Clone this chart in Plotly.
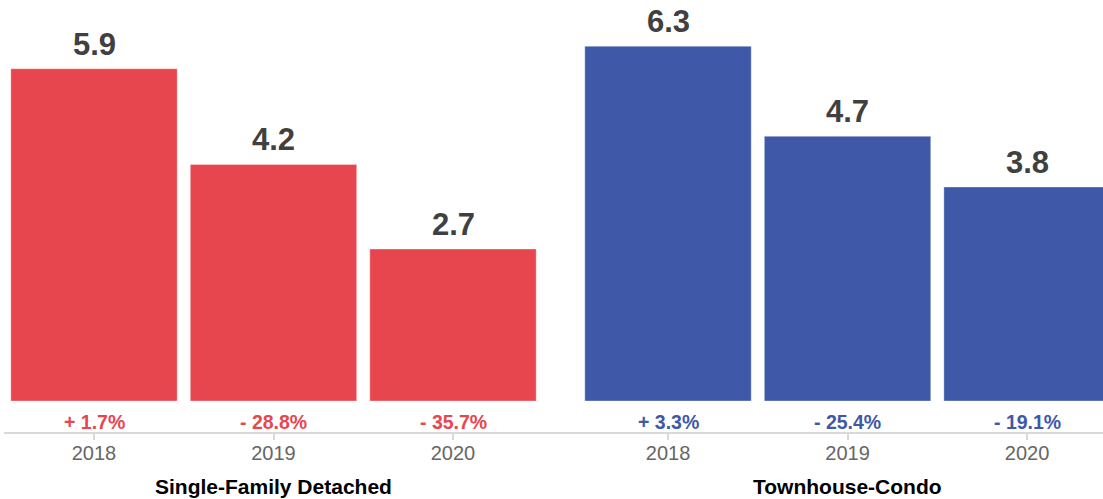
import plotly.graph_objects as go

# Months of supply by year, with year-over-year change
years = ["2018", "2019", "2020"]
single_family = [5.9, 4.2, 2.7]
single_family_change = ["+ 1.7%", "- 28.8%", "- 35.7%"]
townhouse_condo = [6.3, 4.7, 3.8]
townhouse_condo_change = ["+ 3.3%", "- 25.4%", "- 19.1%"]
group_titles = ["Single-Family Detached", "Townhouse-Condo"]

RED = "#E8464E"
BLUE = "#3F58A8"
FONT = "Liberation Sans"
W, H = 1103, 499

fig = go.Figure()
groups = [("x", single_family, single_family_change, RED),
          ("x2", townhouse_condo, townhouse_condo_change, BLUE)]
annotations = []
for ax, vals, changes, col in groups:
    fig.add_trace(go.Bar(x=years, y=vals, xaxis=ax, yaxis="y",
                         marker=dict(color=col, line=dict(color="rgba(255,255,255,0.35)", width=1)),
                         hoverinfo="skip"))
    for i, (v, ch) in enumerate(zip(vals, changes)):
        # value label above the bar
        annotations.append(dict(xref=ax, yref="y", x=i, y=v, text=f"<b>{v:.1f}</b>",
                                showarrow=False, yanchor="bottom", yshift=5,
                                font=dict(family=FONT, size=31, color="#404040")))
        # year-over-year change under the bar
        annotations.append(dict(xref=ax, yref="y", x=i, y=0, text=f"<b>{ch}</b>",
                                showarrow=False, yanchor="middle", yshift=-21,
                                font=dict(family=FONT, size=19.5, color=col)))

for ax, title in zip(["x", "x2"], group_titles):
    annotations.append(dict(xref=ax, yref="paper", x=1, y=0, text=f"<b>{title}</b>",
                            showarrow=False, yanchor="middle", yshift=-53,
                            font=dict(family=FONT, size=21, color="#000000")))

axis_common = dict(type="category", showgrid=False, zeroline=False, showline=False,
                   ticks="outside", ticklen=6, tickwidth=1.5, tickcolor="#d9d9d9",
                   ticklabelstandoff=-4,
                   tickfont=dict(family=FONT, size=20, color="#666666"), fixedrange=True)

fig.update_layout(
    width=W, height=H,
    margin=dict(l=0, r=0, t=0, b=66),
    paper_bgcolor="white", plot_bgcolor="white",
    showlegend=False, bargap=0.073,
    xaxis=dict(domain=[4.25 / W, 542.75 / W], range=[-0.5, 2.5], anchor="y", **axis_common),
    xaxis2=dict(domain=[578.25 / W, 1.0], range=[-0.5, 2.423], anchor="y", **axis_common),
    yaxis=dict(range=[-0.568, 7.12], visible=False, fixedrange=True),
    annotations=annotations,
    shapes=[dict(type="line", xref="paper", yref="paper", x0=4 / W, x1=1.0, y0=0, y1=0,
                 line=dict(color="#d9d9d9", width=2), layer="above")],
)

fig.write_html("out.html")
